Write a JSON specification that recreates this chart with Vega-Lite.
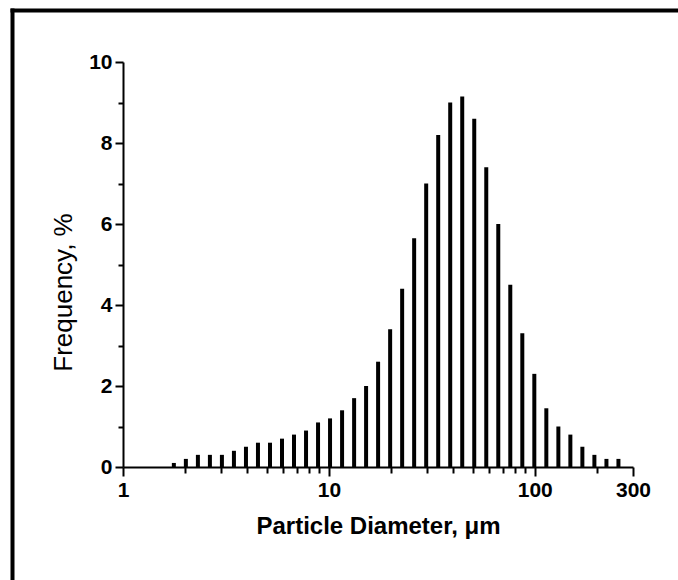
{
  "$schema": "https://vega.github.io/schema/vega-lite/v6.json",
  "autosize": "none",
  "padding": {"left": 12, "top": 10, "right": 0, "bottom": 0},
  "width": 666,
  "height": 570,
  "background": "white",
  "config": {
    "view": {"stroke": null, "fill": "white"},
    "font": "Liberation Sans"
  },
  "data": {
    "values": [
      {"d": 1.766, "f": 0.1}, {"d": 2.02, "f": 0.2}, {"d": 2.311, "f": 0.3}, {"d": 2.643, "f": 0.3},
      {"d": 3.023, "f": 0.3}, {"d": 3.458, "f": 0.4}, {"d": 3.956, "f": 0.5}, {"d": 4.524, "f": 0.6},
      {"d": 5.175, "f": 0.6}, {"d": 5.919, "f": 0.7}, {"d": 6.77, "f": 0.8}, {"d": 7.745, "f": 0.9},
      {"d": 8.858, "f": 1.1}, {"d": 10.13, "f": 1.2}, {"d": 11.59, "f": 1.4}, {"d": 13.26, "f": 1.7},
      {"d": 15.16, "f": 2.0}, {"d": 17.34, "f": 2.6}, {"d": 19.84, "f": 3.4}, {"d": 22.69, "f": 4.4},
      {"d": 25.95, "f": 5.65}, {"d": 29.69, "f": 7.0}, {"d": 33.96, "f": 8.2}, {"d": 38.84, "f": 9.0},
      {"d": 44.43, "f": 9.15}, {"d": 50.82, "f": 8.6}, {"d": 58.13, "f": 7.4}, {"d": 66.49, "f": 6.0},
      {"d": 76.05, "f": 4.5}, {"d": 86.99, "f": 3.3}, {"d": 99.5, "f": 2.3}, {"d": 113.8, "f": 1.45},
      {"d": 130.2, "f": 1.0}, {"d": 148.9, "f": 0.8}, {"d": 170.3, "f": 0.5}, {"d": 194.8, "f": 0.3},
      {"d": 222.9, "f": 0.2}, {"d": 254.9, "f": 0.2}
    ]
  },
  "layer": [
    {
      "mark": {"type": "rule", "opacity": 0},
      "encoding": {
        "x": {
          "field": "d", "type": "quantitative",
          "scale": {"type": "log", "domain": [1, 300], "nice": false, "range": [-2, 666]},
          "axis": {
            "orient": "top", "offset": 0, "ticks": false, "labels": false, "grid": false, "title": null,
            "domainColor": "black", "domainWidth": 4
          }
        },
        "y": {
          "field": "f", "type": "quantitative",
          "scale": {"domain": [0, 10], "nice": false, "range": [570, -2]},
          "axis": {
            "orient": "left", "offset": 0, "ticks": false, "labels": false, "grid": false, "title": null,
            "domainColor": "black", "domainWidth": 4
          }
        }
      }
    },
    {
      "mark": {"type": "rule", "color": "black", "strokeWidth": 4},
      "encoding": {
        "x": {
          "field": "d", "type": "quantitative",
          "scale": {"type": "log", "domain": [1, 300], "nice": false, "range": [111, 621]},
          "axis": {
            "orient": "bottom",
            "offset": -113,
            "values": [1,2,3,4,5,6,7,8,9,10,20,30,40,50,60,70,80,90,100,200,300],
            "format": "d",
            "labelExpr": "indexof([1,10,100,300], datum.value) >= 0 ? datum.label : ''",
            "grid": false,
            "domainColor": "black", "domainWidth": 2,
            "tickColor": "black", "tickWidth": 2,
            "tickSize": {"condition": {"test": "indexof([1,10,100,300], datum.value) >= 0", "value": 9}, "value": 6},
            "labelFont": "Liberation Sans", "labelFontWeight": "bold", "labelFontSize": 21, "labelColor": "black",
            "labelPadding": 3, "labelFlush": false, "labelOverlap": false,
            "title": "Particle Diameter, μm",
            "titleFont": "Liberation Sans", "titleFontWeight": "bold", "titleFontSize": 24, "titleColor": "black",
            "titlePadding": 14
          }
        },
        "y": {
          "field": "f", "type": "quantitative",
          "scale": {"domain": [0, 10], "nice": false, "range": [457, 52]},
          "axis": {
            "orient": "left",
            "offset": -111,
            "values": [0,1,2,3,4,5,6,7,8,9,10],
            "labelExpr": "datum.value % 2 == 0 ? datum.label : ''",
            "grid": false,
            "domainColor": "black", "domainWidth": 2,
            "tickColor": "black", "tickWidth": 2,
            "tickSize": {"condition": {"test": "datum.value % 2 == 0", "value": 8}, "value": 5},
            "labelFont": "Liberation Sans", "labelFontWeight": "bold", "labelFontSize": 21, "labelColor": "black",
            "labelPadding": 3, "labelFlush": false, "labelOverlap": false,
            "title": "Frequency, %",
            "titleFont": "Liberation Sans", "titleFontWeight": "normal", "titleFontSize": 26, "titleColor": "black",
            "titlePadding": 12,
            "titleY": 282
          }
        },
        "y2": {"datum": 0}
      }
    }
  ],
  "resolve": {"scale": {"x": "independent", "y": "independent"}}
}
